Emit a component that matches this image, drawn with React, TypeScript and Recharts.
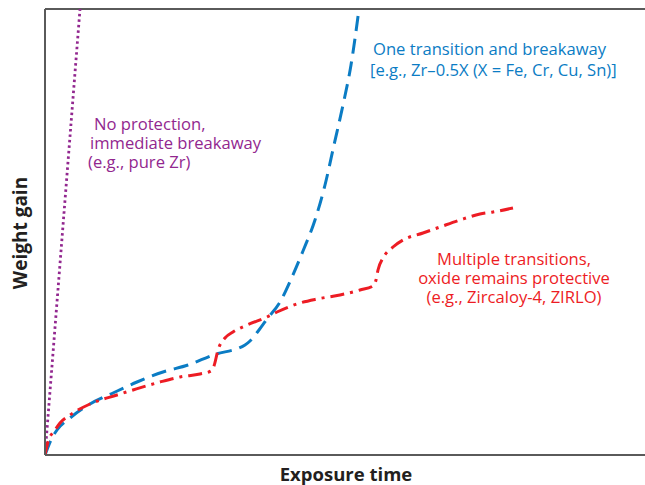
import { LineChart, Line, XAxis, YAxis, ReferenceLine, Customized } from "recharts"

// Oxidation kinetics sketch: weight gain vs exposure time (arbitrary units)
const noProtectionX = [0, 35]
const noProtectionY = [0, 446]

const oneTransitionX = [0, 7, 12, 25, 45, 68, 92, 118, 143, 168, 200, 205, 214, 222, 235, 247, 258, 270, 280, 289, 298, 306, 314]
const oneTransitionY = [0, 17, 25, 37, 51, 62, 73, 83, 90, 100, 110, 114, 125, 136, 153, 178, 204, 235, 270, 310, 350, 390, 446]

const multipleTransitionsX = [0, 3, 10, 15, 25, 45, 72, 88, 115, 135, 155, 166, 169, 173, 180, 188, 202, 222, 232, 255, 272, 295, 315, 328, 331, 333, 338, 348, 358, 378, 395, 415, 435, 448, 468]
const multipleTransitionsY = [0, 13, 25, 32, 40, 51, 60, 65, 73, 78, 81, 84, 89, 105, 117, 123, 130, 138, 143, 152, 156, 160, 165, 169, 175, 185, 197, 208, 215, 222, 228, 235, 241, 243, 247]

const toPoints = (xs: number[], ys: number[]) => xs.map((x, i) => ({ t: x, w: ys[i] }))

const noProtection = toPoints(noProtectionX, noProtectionY)
const oneTransition = toPoints(oneTransitionX, oneTransitionY)
const multipleTransitions = toPoints(multipleTransitionsX, multipleTransitionsY)

const PURPLE = "#92278f"
const BLUE = "#0b7cc4"
const RED = "#ed1c24"
const AXIS = "#5a5a5a"
const FONT = "'Open Sans', 'Noto Sans', sans-serif"

const Annotations = () => (
    <g fontFamily={FONT} fontSize={16.6}>
        <text fill={PURPLE}>
            <tspan x={94} y={130}>No protection,</tspan>
            <tspan x={90} y={149}>immediate breakaway</tspan>
            <tspan x={88} y={168}>(e.g., pure Zr)</tspan>
        </text>
        <text fill={BLUE}>
            <tspan x={373} y={55}>One transition and breakaway</tspan>
            <tspan x={370} y={76}>[e.g., Zr–0.5X (X = Fe, Cr, Cu, Sn)]</tspan>
        </text>
        <text fill={RED} textAnchor="middle">
            <tspan x={514} y={265}>Multiple transitions,</tspan>
            <tspan x={514} y={284}>oxide remains protective</tspan>
            <tspan x={514} y={303}>(e.g., Zircaloy-4, ZIRLO)</tspan>
        </text>
        <text x={346} y={481} textAnchor="middle" fontWeight="bold" fontSize={18.5} fill="#231f20">
            Exposure time
        </text>
        <text
            x={27}
            y={233}
            textAnchor="middle"
            fontWeight="bold"
            fontSize={19}
            fill="#231f20"
            transform="rotate(-90 27 233)"
        >
            Weight gain
        </text>
    </g>
)

export default function App() {
    return (
        <div style={{ position: "absolute", left: 0, top: 0, background: "#fff" }}>
            <LineChart width={645} height={485} margin={{ top: 9, right: 0, bottom: 0, left: 0 }}>
                <XAxis
                    dataKey="t"
                    type="number"
                    domain={[0, 600]}
                    allowDataOverflow
                    tick={false}
                    tickLine={false}
                    height={30}
                    axisLine={{ stroke: AXIS, strokeWidth: 2 }}
                />
                <YAxis
                    dataKey="w"
                    type="number"
                    domain={[0, 446]}
                    allowDataOverflow
                    tick={false}
                    tickLine={false}
                    width={45}
                    axisLine={{ stroke: AXIS, strokeWidth: 2 }}
                />
                <ReferenceLine y={446} stroke={AXIS} strokeWidth={2} />
                <Line
                    data={noProtection}
                    dataKey="w"
                    type="linear"
                    stroke={PURPLE}
                    strokeWidth={2.8}
                    strokeDasharray="2.5 3"
                    dot={false}
                    isAnimationActive={false}
                />
                <Line
                    data={oneTransition}
                    dataKey="w"
                    type="monotone"
                    stroke={BLUE}
                    strokeWidth={3}
                    strokeDasharray="15 8"
                    dot={false}
                    isAnimationActive={false}
                />
                <Line
                    data={multipleTransitions}
                    dataKey="w"
                    type="monotone"
                    stroke={RED}
                    strokeWidth={3}
                    strokeDasharray="14 6 3 6"
                    dot={false}
                    isAnimationActive={false}
                />
                <Customized component={<Annotations />} />
            </LineChart>
        </div>
    )
}
